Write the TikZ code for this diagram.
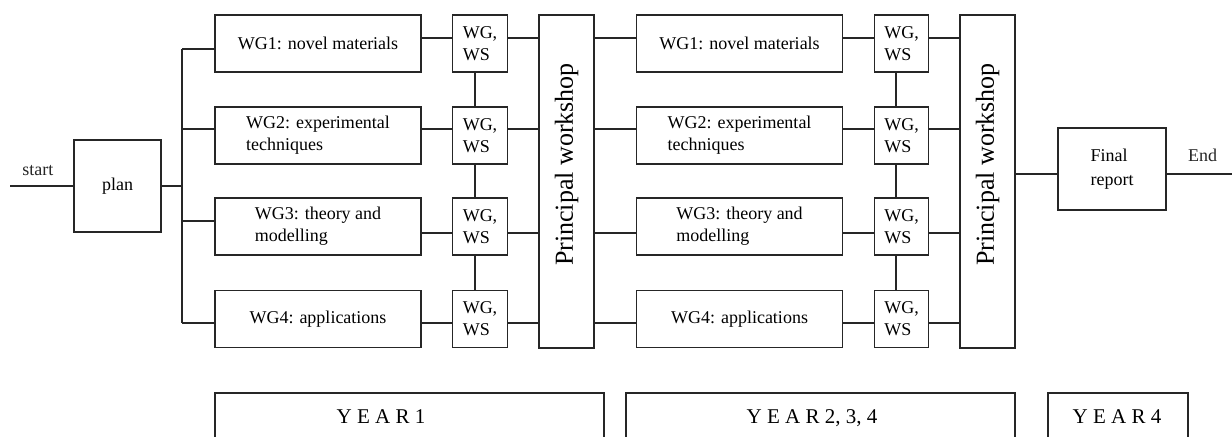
\documentclass[tikz,border=0pt]{standalone}
\usepackage{fontspec}
\setmainfont{Liberation Serif}
\usetikzlibrary{positioning}
\usetikzlibrary{calc}
\tikzset{
  % Common styles for the work plan
  line/.style={draw, black!85, line width=0.6pt},
  plaintext/.style={font=\fontsize{9}{11}\selectfont}
}

\begin{document}
\begin{tikzpicture}[x=0.5pt, y=-0.5pt]
    % Define styles
    \tikzstyle{box} = [rectangle, draw=black!85, line width=0.6pt, inner sep=0pt, align=left, font=\fontsize{9}{11}\selectfont]
    \tikzstyle{wgbox} = [box, minimum width=103pt, minimum height=28.5pt]
    \tikzstyle{wsbox} = [box, minimum width=27.25pt, minimum height=28.5pt]
    \tikzstyle{pwbox} = [box, minimum width=27.5pt, minimum height=166.5pt]
    \tikzstyle{yearbox} = [box, minimum height=23pt]
    \tikzstyle{pwtext} = [rotate=90, font=\fontsize{13}{15}\selectfont]
    \tikzstyle{yeartext} = [anchor=base, font=\fontsize{10.5}{12}\selectfont]

    \clip (0,0) rectangle (1232,436);
    \fill[white] (0,0) rectangle (1232,436);

    % Helper coordinates
    \coordinate (startpt) at (10,186);
    \coordinate (trunk) at (182,186);
    \coordinate (b1) at (0,49);
    \coordinate (b2) at (0,129);
    \coordinate (b3) at (0,221);
    \coordinate (b4) at (0,323);
    \coordinate (r1) at (0,38);
    \coordinate (r2) at (0,129);
    \coordinate (r3) at (0,233);
    \coordinate (r4) at (0,323);
    \coordinate (v1) at (475,0);
    \coordinate (v2) at (896,0);
    \coordinate (fr) at (0,174);
    \coordinate (endpt) at (1232,174);

    % Place nodes
    \node [box, minimum width=43.5pt, minimum height=46pt] (plan) at (117.5,186) {plan};

    \node [wgbox] (wga1) at (318,43.5) {WG1: novel materials};
    \node [wgbox] (wga2) at (318,135.5) {WG2: experimental\\techniques};
    \node [wgbox] (wga3) at (318,226.5) {WG3: theory and\\modelling};
    \node [wgbox] (wga4) at (318,319) {WG4: applications};

    \node [wsbox] (wsa1) at (480,43.5) {WG,\\WS};
    \node [wsbox] (wsa2) at (480,135.5) {WG,\\WS};
    \node [wsbox] (wsa3) at (480,226.5) {WG,\\WS};
    \node [wsbox] (wsa4) at (480,319) {WG,\\WS};

    \node [pwbox] (pw1) at (566.5,181.5) {};
    \node [pwtext] (pwlab1) at (566.5,164.5) {Principal workshop};

    \node [wgbox] (wgb1) at (739.5,43.5) {WG1: novel materials};
    \node [wgbox] (wgb2) at (739.5,135.5) {WG2: experimental\\techniques};
    \node [wgbox] (wgb3) at (739.5,226.5) {WG3: theory and\\modelling};
    \node [wgbox] (wgb4) at (739.5,319) {WG4: applications};

    \node [wsbox] (wsb1) at (901.5,43.5) {WG,\\WS};
    \node [wsbox] (wsb2) at (901.5,135.5) {WG,\\WS};
    \node [wsbox] (wsb3) at (901.5,226.5) {WG,\\WS};
    \node [wsbox] (wsb4) at (901.5,319) {WG,\\WS};

    \node [pwbox] (pw2) at (987.5,181.5) {};
    \node [pwtext] (pwlab2) at (987.5,164.5) {Principal workshop};

    \node [box, minimum width=54pt, minimum height=41pt, font=\fontsize{9}{12}\selectfont] (final) at (1112,169) {Final\\report};

    \node [yearbox, minimum width=194.5pt] (year1) at (409.5,416) {};
    \node [yearbox, minimum width=194.5pt] (year2) at (820.5,416) {};
    \node [yearbox, minimum width=70pt] (year4) at (1118,416) {};
    \node [yeartext] (year1lab) at (381,423) {Y E A R 1};
    \node [yeartext] (year2lab) at (812,423) {Y E A R 2, 3, 4};
    \node [yeartext] (year4lab) at (1117,423) {Y E A R 4};

    % Draw edges
    \path [line] (startpt) -- node [plaintext, above=1.5pt, pos=0.44] {start} (plan.west);
    \path [line] (plan.east |- trunk) -- (trunk);
    \path [line] (trunk |- b1) -- (trunk |- b4);
    \path [line] (trunk |- b1) -- (wga1.west |- b1);
    \path [line] (trunk |- b2) -- (wga2.west |- b2);
    \path [line] (trunk |- b3) -- (wga3.west |- b3);
    \path [line] (trunk |- b4) -- (wga4.west |- b4);

    \path [line] (wga1.east |- r1) -- (wsa1.west |- r1) (wsa1.east |- r1) -- (pw1.west |- r1);
    \path [line] (wga2.east |- r2) -- (wsa2.west |- r2) (wsa2.east |- r2) -- (pw1.west |- r2);
    \path [line] (wga3.east |- r3) -- (wsa3.west |- r3) (wsa3.east |- r3) -- (pw1.west |- r3);
    \path [line] (wga4.east |- r4) -- (wsa4.west |- r4) (wsa4.east |- r4) -- (pw1.west |- r4);
    \path [line] (wsa1.south -| v1) -- (wsa2.north -| v1);
    \path [line] (wsa2.south -| v1) -- (wsa3.north -| v1);
    \path [line] (wsa3.south -| v1) -- (wsa4.north -| v1);

    \path [line] (pw1.east |- r1) -- (wgb1.west |- r1);
    \path [line] (pw1.east |- r2) -- (wgb2.west |- r2);
    \path [line] (pw1.east |- r3) -- (wgb3.west |- r3);
    \path [line] (pw1.east |- r4) -- (wgb4.west |- r4);

    \path [line] (wgb1.east |- r1) -- (wsb1.west |- r1) (wsb1.east |- r1) -- (pw2.west |- r1);
    \path [line] (wgb2.east |- r2) -- (wsb2.west |- r2) (wsb2.east |- r2) -- (pw2.west |- r2);
    \path [line] (wgb3.east |- r3) -- (wsb3.west |- r3) (wsb3.east |- r3) -- (pw2.west |- r3);
    \path [line] (wgb4.east |- r4) -- (wsb4.west |- r4) (wsb4.east |- r4) -- (pw2.west |- r4);
    \path [line] (wsb1.south -| v2) -- (wsb2.north -| v2);
    \path [line] (wsb2.south -| v2) -- (wsb3.north -| v2);
    \path [line] (wsb3.south -| v2) -- (wsb4.north -| v2);

    \path [line] (pw2.east |- fr) -- (final.west |- fr);
    \path [line] (final.east |- fr) -- node [plaintext, above=2.5pt, pos=0.55] {End} (endpt);
\end{tikzpicture}
\end{document}
